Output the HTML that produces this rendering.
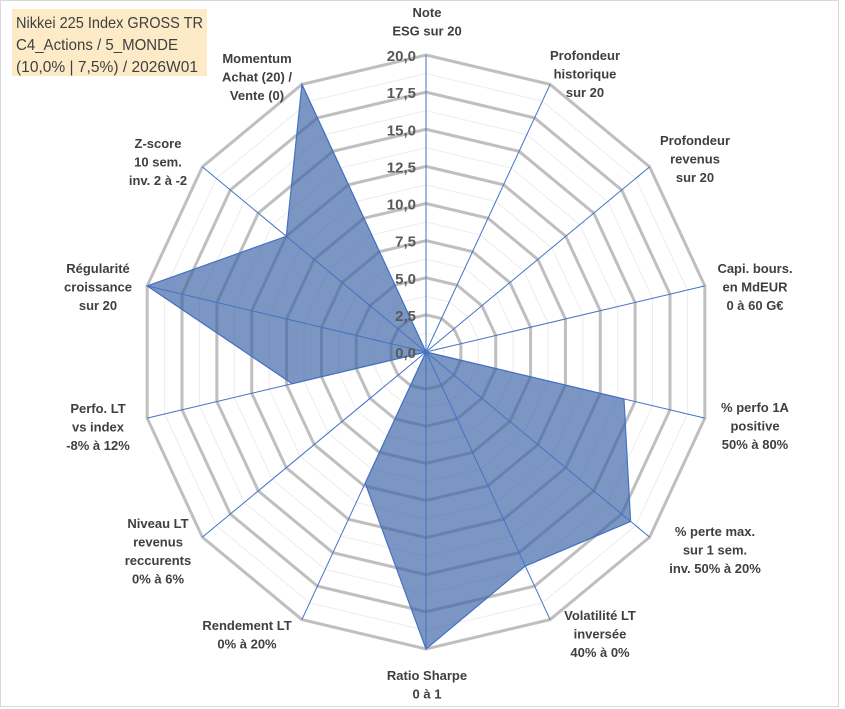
<!DOCTYPE html>
<html><head><meta charset="utf-8"><style>
html,body{margin:0;padding:0;background:#fff}
svg{display:block;font-family:"Liberation Sans",Arial,sans-serif}
.lbl{font-size:13px;font-weight:bold;fill:#404040;text-anchor:middle}
.tick{font-size:15px;font-weight:bold;fill:#595959;text-anchor:end}
</style></head><body>
<svg id="chart" width="845" height="709" viewBox="0 0 845 709">
<rect x="0.5" y="0.5" width="838" height="706" fill="#fff" stroke="#d9d9d9"/>
<rect x="12" y="9" width="195" height="67" fill="#fdebc8"/>
<g font-size="16" fill="#404040">
<text x="16" y="28" textLength="187" lengthAdjust="spacingAndGlyphs">Nikkei 225 Index GROSS TR</text>
<text x="16" y="50" textLength="162" lengthAdjust="spacingAndGlyphs">C4_Actions / 5_MONDE</text>
<text x="16" y="72" textLength="182" lengthAdjust="spacingAndGlyphs">(10,0% | 7,5%) / 2026W01</text>
</g>
<g id="grid"></g>
<g id="series"></g>
<g id="axes"></g>
<g id="ticks"></g>
<g id="labels"></g>
</svg>
<script>
const categories = [
 ["Note","ESG sur 20"],
 ["Profondeur","historique","sur 20"],
 ["Profondeur","revenus","sur 20"],
 ["Capi. bours.","en MdEUR","0 à 60 G€"],
 ["% perfo 1A","positive","50% à 80%"],
 ["% perte max.","sur 1 sem.","inv. 50% à 20%"],
 ["Volatilité LT","inversée","40% à 0%"],
 ["Ratio Sharpe","0 à 1"],
 ["Rendement LT","0% à 20%"],
 ["Niveau LT","revenus","reccurents","0% à 6%"],
 ["Perfo. LT","vs index","-8% à 12%"],
 ["Régularité","croissance","sur 20"],
 ["Z-score","10 sem.","inv. 2 à -2"],
 ["Momentum","Achat (20) /","Vente (0)"]
];
const values = [0,0,0,0,14.2,18.3,16,20,9.8,0,9.6,20,12.5,20];
const tickLabels = ["0,0","2,5","5,0","7,5","10,0","12,5","15,0","17,5","20,0"];
const tickValues = [0,2.5,5,7.5,10,12.5,15,17.5,20];
const maxV = 20;
const labelPos = [[427,12],[585,55],[695,140],[755,268],[755,407],[715,531],[600,615],[427,675],[247,625],[158,523],[98,408],[98,268],[158,143],[257,58]];

const NS="http://www.w3.org/2000/svg";
const cx=426, cy=352, rx=286, ry=297, N=categories.length;
function pt(i,v){const a=2*Math.PI*i/N;return [cx+Math.sin(a)*rx*v/maxV, cy-Math.cos(a)*ry*v/maxV];}
function mk(tag,attrs,parent){const e=document.createElementNS(NS,tag);for(const k in attrs)e.setAttribute(k,attrs[k]);parent.appendChild(e);return e;}
const grid=document.getElementById('grid');
for(let s=1;s<=16;s++){
 const v=s*1.25, major=s%2===0;
 const pts=[];for(let i=0;i<N;i++)pts.push(pt(i,v).join(','));
 const p=mk('polygon',{points:pts.join(' '),fill:'none',stroke:major?'#bfbfbf':'#ececec','stroke-width':major?3:1},grid);
 
 
}
const series=document.getElementById('series');
const sp=values.map((v,i)=>pt(i,v).join(',')).join(' ');
const poly=mk('polygon',{points:sp,fill:'rgba(60,100,165,0.68)',stroke:'#4472c4','stroke-width':1.2},series);


const axes=document.getElementById('axes');
for(let i=0;i<N;i++){
 const [x,y]=pt(i,maxV);
 const l=mk('line',{x1:cx,y1:cy,x2:x,y2:y,stroke:'#4472c4','stroke-width':1},axes);
 
 
}
const ticks=document.getElementById('ticks');
tickValues.forEach((v,i)=>{
 const [x,y]=pt(0,v);
 const t=mk('text',{x:x-10,y:y+6,class:'tick'},ticks);
 t.textContent=tickLabels[i];
 
 
});
const labels=document.getElementById('labels');
categories.forEach((lines,i)=>{
 const g=mk('text',{class:'lbl'},labels);
 
 
 lines.forEach((s,j)=>{const ts=mk('tspan',{x:labelPos[i][0],y:labelPos[i][1]+5+j*18.5},g);ts.textContent=s;});
});
</script>
</body></html>
